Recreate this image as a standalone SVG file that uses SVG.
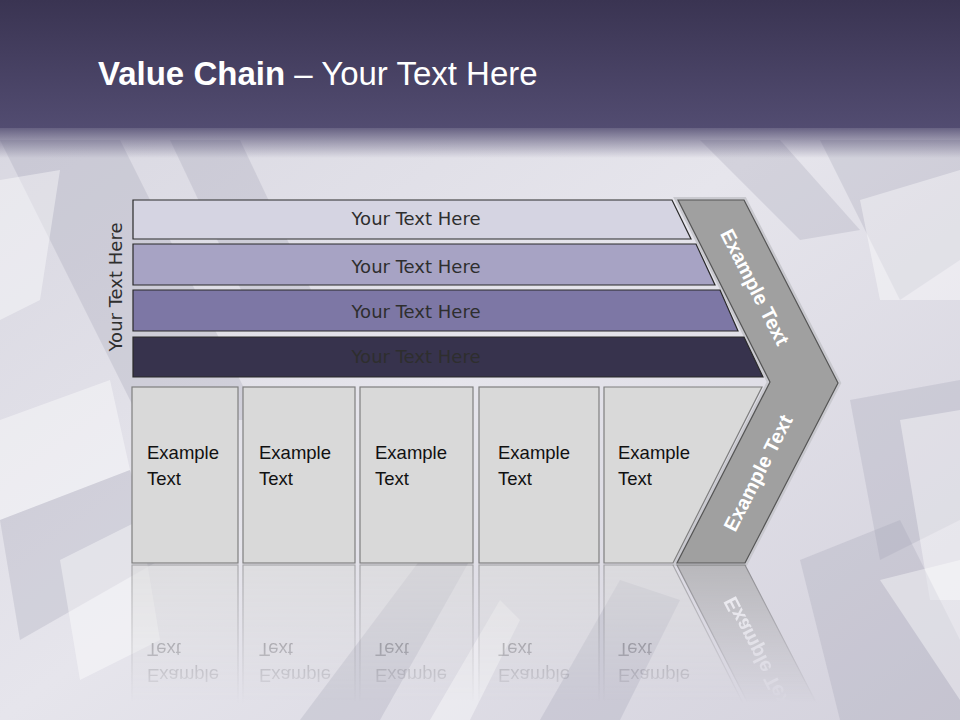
<svg xmlns="http://www.w3.org/2000/svg" width="960" height="720" viewBox="0 0 960 720">
  <defs>
    <linearGradient id="hdr" x1="0" y1="0" x2="0" y2="1">
      <stop offset="0" stop-color="#3a3452"/>
      <stop offset="1" stop-color="#524c71"/>
    </linearGradient>
    <linearGradient id="hdrShade" x1="0" y1="0" x2="0" y2="1">
      <stop offset="0" stop-color="#524c71" stop-opacity="0.85"/>
      <stop offset="1" stop-color="#524c71" stop-opacity="0"/>
    </linearGradient>
    <linearGradient id="bg" x1="0" y1="0" x2="1" y2="1">
      <stop offset="0" stop-color="#d6d5df"/>
      <stop offset="0.5" stop-color="#e6e5ec"/>
      <stop offset="1" stop-color="#d3d1dc"/>
    </linearGradient>
    <linearGradient id="fade" x1="0" y1="0" x2="0" y2="1">
      <stop offset="0" stop-color="#fff" stop-opacity="0.6"/>
      <stop offset="1" stop-color="#fff" stop-opacity="0"/>
    </linearGradient>
    <mask id="reflMask" maskUnits="userSpaceOnUse" x="0" y="563" width="960" height="157">
      <rect x="0" y="563" width="960" height="140" fill="url(#fade)"/>
    </mask>
    <style>
      .bar { stroke: #2a2a2a; stroke-width: 1.2; }
      .barTxt { font-family: "DejaVu Sans", Verdana, sans-serif; font-size: 18px; text-anchor: middle; fill: #2e2e2e; }
      .box { fill: #d9d9d9; stroke: #7f7f7f; stroke-width: 1.2; }
      .boxTxt { font-family: "Liberation Sans", Arial, sans-serif; font-size: 18.5px; fill: #111; }
      .chev { fill: #a0a0a0; stroke: #555; stroke-width: 1.2; }
      .halo { fill: none; stroke: #c9c9cf; stroke-width: 6; stroke-linejoin: miter; }
      .chevTxt { font-family: "Liberation Sans", Arial, sans-serif; font-size: 20px; font-weight: bold; fill: #fff; text-anchor: middle; }
      .streak { fill: #ffffff; opacity: 0.4; }
      .streakD { fill: #a3a1b3; opacity: 0.28; }
    </style>
  </defs>

  <!-- background -->
  <rect x="0" y="0" width="960" height="720" fill="url(#bg)"/>
  <g id="background">
    <polygon class="streakD" points="0,140 120,140 260,420 140,420"/>
    <polygon class="streak" points="0,180 60,170 40,300 0,320"/>
    <polygon class="streakD" points="170,140 240,140 330,330 260,330"/>
    <polygon class="streak" points="0,420 110,380 130,470 0,520"/>
    <polygon class="streakD" points="0,520 130,470 160,560 20,640"/>
    <polygon class="streak" points="60,560 140,520 160,640 80,680"/>
    <polygon class="streakD" points="820,140 960,140 960,260 900,300"/>
    <polygon class="streak" points="860,200 960,170 960,300 880,300"/>
    <polygon class="streakD" points="850,400 960,380 960,520 880,560"/>
    <polygon class="streak" points="900,420 960,410 960,600 930,600"/>
    <polygon class="streakD" points="800,560 900,520 960,640 960,720 840,720"/>
    <polygon class="streak" points="880,580 960,560 960,700"/>
    <polygon class="streakD" points="300,720 420,560 470,560 380,720"/>
    <polygon class="streakD" points="540,720 620,580 680,600 620,720"/>
    <polygon class="streak" points="430,720 500,600 520,620 470,720"/>
    <polygon class="streakD" points="700,140 780,140 860,230 800,240"/>
  </g>

  <!-- header -->
  <rect x="0" y="0" width="960" height="128" fill="url(#hdr)"/>
  <rect x="0" y="128" width="960" height="30" fill="url(#hdrShade)"/>
  <text x="98" y="85" font-family="Liberation Sans, Arial, sans-serif" font-size="33" fill="#ffffff"><tspan font-weight="bold">Value Chain</tspan> – Your Text Here</text>

  <!-- vertical label -->
  <g id="side-label">
    <text class="barTxt" transform="translate(122,287) rotate(-90)" fill="#111">Your Text Here</text>
  </g>

  <!-- chevron -->
  <g id="chevron">
    <polygon class="halo" points="678,200 744,200 838,383 745,563 677,563 770,382"/>
    <polygon class="chev" points="678,200 744,200 838,383 745,563 677,563 770,382"/>
    <text class="chevTxt" transform="translate(755,287) rotate(63)" y="7">Example Text</text>
    <text class="chevTxt" transform="translate(758,473) rotate(-63)" y="7">Example Text</text>
  </g>

  <!-- bars -->
  <g id="bar1">
    <polygon class="bar" fill="#d5d4e2" points="133,200 672,200 691,239 133,239"/>
    <text class="barTxt" x="416" y="225">Your Text Here</text>
  </g>
  <g id="bar2">
    <polygon class="bar" fill="#a7a3c4" points="133,244 696,244 715,285 133,285"/>
    <text class="barTxt" x="416" y="273">Your Text Here</text>
  </g>
  <g id="bar3">
    <polygon class="bar" fill="#7d77a5" points="133,290 720,290 738,331 133,331"/>
    <text class="barTxt" x="416" y="318">Your Text Here</text>
  </g>
  <g id="bar4">
    <polygon class="bar" fill="#37334d" points="133,337 744,337 763,377 133,377"/>
    <text class="barTxt" x="416" y="363" fill="#25222f">Your Text Here</text>
  </g>

  <!-- boxes -->
  <g id="box1">
    <rect class="box" x="132" y="387" width="106" height="176"/>
    <text class="boxTxt" x="147" y="459">Example</text>
    <text class="boxTxt" x="147" y="485">Text</text>
  </g>
  <g id="box2">
    <rect class="box" x="243" y="387" width="112" height="176"/>
    <text class="boxTxt" x="259" y="459">Example</text>
    <text class="boxTxt" x="259" y="485">Text</text>
  </g>
  <g id="box3">
    <rect class="box" x="360" y="387" width="113" height="176"/>
    <text class="boxTxt" x="375" y="459">Example</text>
    <text class="boxTxt" x="375" y="485">Text</text>
  </g>
  <g id="box4">
    <rect class="box" x="479" y="387" width="120" height="176"/>
    <text class="boxTxt" x="498" y="459">Example</text>
    <text class="boxTxt" x="498" y="485">Text</text>
  </g>
  <g id="box5">
    <polygon class="box" points="604,387 762,387 673,563 604,563"/>
    <text class="boxTxt" x="618" y="459">Example</text>
    <text class="boxTxt" x="618" y="485">Text</text>
  </g>

  <!-- reflection -->
  <g id="reflection" mask="url(#reflMask)">
    <g transform="translate(0,1128) scale(1,-1)">
      <polygon class="chev" points="678,200 744,200 838,383 745,563 677,563 770,382"/>
      <text class="chevTxt" transform="translate(758,473) rotate(-63)" y="7">Example Text</text>
      <rect class="box" x="132" y="387" width="106" height="176"/>
      <rect class="box" x="243" y="387" width="112" height="176"/>
      <rect class="box" x="360" y="387" width="113" height="176"/>
      <rect class="box" x="479" y="387" width="120" height="176"/>
      <polygon class="box" points="604,387 762,387 673,563 604,563"/>
      <text class="boxTxt" x="147" y="459">Example</text>
      <text class="boxTxt" x="147" y="485">Text</text>
      <text class="boxTxt" x="259" y="459">Example</text>
      <text class="boxTxt" x="259" y="485">Text</text>
      <text class="boxTxt" x="375" y="459">Example</text>
      <text class="boxTxt" x="375" y="485">Text</text>
      <text class="boxTxt" x="498" y="459">Example</text>
      <text class="boxTxt" x="498" y="485">Text</text>
      <text class="boxTxt" x="618" y="459">Example</text>
      <text class="boxTxt" x="618" y="485">Text</text>
    </g>
  </g>
</svg>
